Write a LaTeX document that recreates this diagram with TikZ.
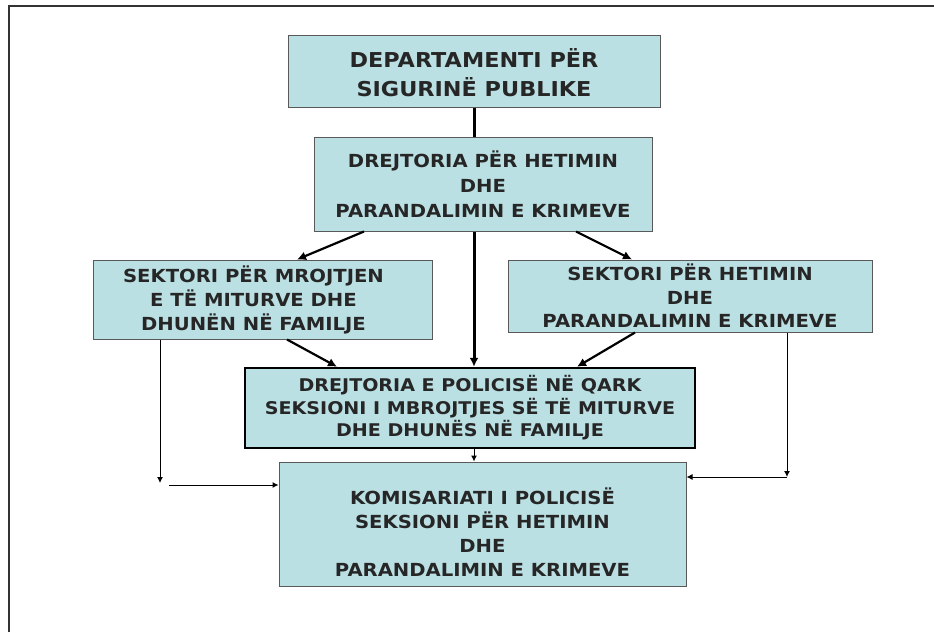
\documentclass[tikz,border=0pt]{standalone}
\usepackage{fontspec}
\setsansfont{DejaVu Sans}[FakeStretch=1.09]
\usetikzlibrary{arrows.meta}
\definecolor{boxblue}{RGB}{187,224,228}
\begin{document}
\begin{tikzpicture}[x=1pt, y=-1pt,
  unit/.style={draw=black!65, line width=1pt, fill=boxblue, align=center, inner sep=0pt,
    font=\sffamily\bfseries\fontsize{18}{25}\selectfont, text=black!85},
  thick line/.style={line width=3pt},
  mid line/.style={line width=2.2pt, -{Latex[length=9pt,width=9pt]}},
  thin line/.style={line width=1pt, -{Latex[length=6pt,width=6pt]}}]
\useasboundingbox (0,0) rectangle (934,632);
\draw[black!80, line width=1.5pt] (9,632) -- (9,6) -- (934,6);

\node[unit, minimum width=372pt, minimum height=72pt, font=\sffamily\bfseries\fontsize{20.5}{28.5}\selectfont] (dep) at (474,71) {\rule{0pt}{22pt}DEPARTAMENTI PËR\\SIGURINË PUBLIKE};
\node[unit, minimum width=338pt, minimum height=94pt] (drej) at (483,184) {DREJTORIA PËR HETIMIN\\DHE\\PARANDALIMIN E KRIMEVE};
\node[unit, minimum width=339pt, minimum height=79pt] (sekm) at (262.5,299.5) {};
\node[unit, draw=none, fill=none, font=\sffamily\bfseries\fontsize{18}{24}\selectfont] (sekmtext) at ([xshift=-9pt]sekm.center) {SEKTORI PËR MROJTJEN\\E TË MITURVE DHE\\DHUNËN NË FAMILJE};
\node[unit, minimum width=364pt, minimum height=72pt, font=\sffamily\bfseries\fontsize{18}{23.5}\selectfont] (sekh) at (690,296) {SEKTORI PËR HETIMIN\\DHE\\PARANDALIMIN E KRIMEVE};
\node[unit, draw=black, line width=2.5pt, minimum width=450pt, minimum height=80pt, font=\sffamily\bfseries\fontsize{17.5}{22.5}\selectfont] (qark) at (470,408) {DREJTORIA E POLICISË NË QARK\\SEKSIONI I MBROJTJES SË TË MITURVE\\DHE DHUNËS NË FAMILJE};
\node[unit, minimum width=407pt, minimum height=124pt, font=\sffamily\bfseries\fontsize{18}{24}\selectfont] (kom) at (482.5,524) {\rule{0pt}{33pt}KOMISARIATI I POLICISË\\SEKSIONI PËR HETIMIN\\DHE\\PARANDALIMIN E KRIMEVE};

\coordinate (ldown) at (160,483);
\coordinate (lstart) at (169,485);
\coordinate (rdown) at (787,477);

\draw[thick line] (dep.south) -- (dep.south |- drej.north);
\draw[thick line, -{Latex[length=9pt,width=9pt]}] (drej.south -| dep.south) -- (qark.north -| dep.south);
\draw[mid line] (drej.south -| 364,0) -- (sekm.north -| 297,0);
\draw[mid line] (drej.south -| 576,0) -- (sekh.north -| 632,0);
\draw[mid line] (sekm.south -| 287,0) -- (qark.north -| 337,0);
\draw[mid line] (sekh.south -| 635,0) -- (qark.north -| 577,0);
\draw[thin line] (qark.south -| dep.south) -- (kom.north -| dep.south);
\draw[thin line] (sekm.south -| ldown) -- (ldown);
\draw[thin line] (lstart) -- (kom.west |- lstart);
\draw[thin line] (sekh.south -| rdown) -- (rdown);
\draw[thin line] (rdown) -- (kom.east |- rdown);
\end{tikzpicture}
\end{document}
